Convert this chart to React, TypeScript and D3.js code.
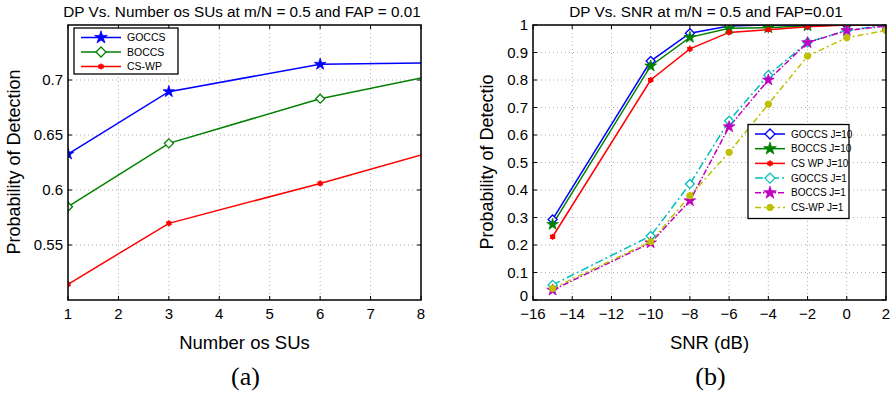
import React from "react";
import * as d3 from "d3";

// (a) detection prob vs number of SUs
const suCounts = [1, 3, 6, 10];
const goccsSU = [0.6327, 0.6894, 0.7143, 0.7167];
const boccsSU = [0.5848, 0.6424, 0.683, 0.7206];
const cswpSU = [0.5143, 0.5697, 0.606, 0.6576];
const suTicks = [1, 2, 3, 4, 5, 6, 7, 8];
const pdTicksA = [0.55, 0.6, 0.65, 0.7];

// (b) detection prob vs SNR
const snr = [-15, -10, -8, -6, -4, -2, 0, 2];
const goccs10 = [0.293, 0.869, 0.97, 0.996, 1.0, 1.0, 1.0, 1.0];
const boccs10 = [0.275, 0.851, 0.955, 0.988, 0.99, 0.997, 1.0, 1.0];
const cswp10 = [0.23, 0.8, 0.913, 0.973, 0.983, 0.994, 1.0, 1.0];
const goccs1 = [0.055, 0.233, 0.422, 0.652, 0.818, 0.937, 0.98, 1.0];
const boccs1 = [0.036, 0.208, 0.361, 0.63, 0.8, 0.936, 0.98, 0.996];
const cswp1 = [0.042, 0.212, 0.379, 0.537, 0.712, 0.887, 0.954, 0.98];
const snrTicks = [-16, -14, -12, -10, -8, -6, -4, -2, 0, 2];
const pdTicksB = [0, 0.1, 0.2, 0.3, 0.4, 0.5, 0.6, 0.7, 0.8, 0.9, 1];

const FONT = "Liberation Sans, Arial, Helvetica, sans-serif";

type Marker = "star" | "diamond" | "asterisk" | "dot";

interface Series {
  name: string;
  values: number[];
  color: string;
  marker: Marker;
  filled: boolean;
  dash?: string;
}

const diamondPath = (r: number) => `M0,${-r}L${r},0L0,${r}L${-r},0Z`;

function MarkerShape({ type, color, filled, x, y, big }: { type: Marker; color: string; filled: boolean; x: number; y: number; big?: boolean }) {
  const t = `translate(${x},${y})`;
  if (type === "diamond") {
    return <path transform={t} d={diamondPath(big ? 5 : 4.5)} fill={filled ? color : "white"} stroke={color} strokeWidth={1.3} />;
  }
  if (type === "star") {
    return <path transform={t} d={d3.symbol(d3.symbolStar, big ? 50 : 42)()!} fill={color} stroke={color} strokeWidth={0.8} />;
  }
  if (type === "asterisk") {
    return (
      <g transform={t}>
        <circle r={2.5} fill={color} />
        <path d={d3.symbol(d3.symbolAsterisk, 26)()!} stroke={color} strokeWidth={1.4} fill="none" />
      </g>
    );
  }
  return <circle transform={t} r={3.2} fill={color} stroke={color} />;
}

interface PanelProps {
  xDomain: [number, number];
  yDomain: [number, number];
  xRange: [number, number];
  yRange: [number, number];
  xs: number[];
  series: Series[];
  xTicks: number[];
  yTicks: number[];
  yFmt: (v: number) => string;
  xFmt: (v: number) => string;
  title: string;
  titleX: number;
  xLabel: string;
  yLabel: string;
  yLabelX: number;
  caption: string;
  clipId: string;
  legend: { x: number; y: number; w: number; h: number; rowH: number; lineLen: number; font: number };
}

function Panel(p: PanelProps) {
  const x = d3.scaleLinear().domain(p.xDomain).range(p.xRange);
  const y = d3.scaleLinear().domain(p.yDomain).range(p.yRange);
  const [x0, x1] = p.xRange;
  const [y1, y0] = p.yRange;
  const cx = (x0 + x1) / 2;
  const line = d3
    .line<number>()
    .x((_, i) => x(p.xs[i]))
    .y((d) => y(d));
  const L = p.legend;
  return (
    <g>
      <defs>
        <clipPath id={p.clipId}>
          <rect x={x0} y={y0} width={x1 - x0} height={y1 - y0} />
        </clipPath>
      </defs>
      <rect x={x0} y={y0} width={x1 - x0} height={y1 - y0} fill="white" />
      {/* grid */}
      {p.xTicks.map((t) => (
        <line key={"gx" + t} x1={x(t)} x2={x(t)} y1={y0} y2={y1} stroke="#999" strokeWidth={0.8} strokeDasharray="1,3" />
      ))}
      {p.yTicks.map((t) => (
        <line key={"gy" + t} x1={x0} x2={x1} y1={y(t)} y2={y(t)} stroke="#999" strokeWidth={0.8} strokeDasharray="1,3" />
      ))}
      {/* inner ticks */}
      {p.xTicks.map((t) => (
        <g key={"tx" + t}>
          <line x1={x(t)} x2={x(t)} y1={y1} y2={y1 - 4} stroke="black" />
          <line x1={x(t)} x2={x(t)} y1={y0} y2={y0 + 4} stroke="black" />
          <text x={x(t)} y={y1 + 19} textAnchor="middle" fontSize={15} fontFamily={FONT}>
            {p.xFmt(t)}
          </text>
        </g>
      ))}
      {p.yTicks.map((t, i) => (
        <g key={"ty" + t}>
          <line x1={x0} x2={x0 + 4} y1={y(t)} y2={y(t)} stroke="black" />
          <line x1={x1} x2={x1 - 4} y1={y(t)} y2={y(t)} stroke="black" />
          <text x={x0 - 5} y={y(t) + (t === p.yDomain[0] ? 1 : 5)} textAnchor="end" fontSize={15} fontFamily={FONT}>
            {p.yFmt(t)}
          </text>
        </g>
      ))}
      {/* data */}
      <g clipPath={`url(#${p.clipId})`}>
        {p.series.map((s) => (
          <path key={s.name} d={line(s.values)!} fill="none" stroke={s.color} strokeWidth={1.5} strokeDasharray={s.dash} />
        ))}
        {p.series.map((s) =>
          s.values.map((v, i) => (
            <MarkerShape key={s.name + i} type={s.marker} color={s.color} filled={s.filled} x={x(p.xs[i])} y={y(v)} />
          ))
        )}
      </g>
      <rect x={x0} y={y0} width={x1 - x0} height={y1 - y0} fill="none" stroke="black" strokeWidth={1.5} />
      {/* legend */}
      <rect x={L.x} y={L.y} width={L.w} height={L.h} fill="white" stroke="black" strokeWidth={1.3} />
      {p.series.map((s, i) => {
        const ly = L.y + 9.5 + i * L.rowH;
        const lx = L.x + 7;
        return (
          <g key={"lg" + s.name}>
            <line x1={lx} x2={lx + L.lineLen} y1={ly} y2={ly} stroke={s.color} strokeWidth={1.5} strokeDasharray={s.dash} />
            <MarkerShape type={s.marker} color={s.color} filled={s.filled} x={lx + L.lineLen / 2} y={ly} big />
            <text x={lx + L.lineLen + 6} y={ly + 3.6} fontSize={L.font} fontFamily={FONT}>
              {s.name}
            </text>
          </g>
        );
      })}
      {/* labels */}
      <text x={p.titleX} y={17} textAnchor="middle" fontSize={15.3} fontFamily={FONT}>
        {p.title}
      </text>
      <text x={cx} y={349} textAnchor="middle" fontSize={18.5} fontFamily={FONT}>
        {p.xLabel}
      </text>
      <text transform={`translate(${p.yLabelX},162) rotate(-90)`} textAnchor="middle" fontSize={18} fontFamily={FONT}>
        {p.yLabel}
      </text>
      <text x={cx + 1} y={385} textAnchor="middle" fontSize={26} fontFamily="Liberation Serif, Times New Roman, serif">
        {p.caption}
      </text>
    </g>
  );
}

export default function App() {
  const seriesA: Series[] = [
    { name: "GOCCS", values: goccsSU, color: "#0000ff", marker: "star", filled: true },
    { name: "BOCCS", values: boccsSU, color: "#008000", marker: "diamond", filled: false },
    { name: "CS-WP", values: cswpSU, color: "#ff0000", marker: "asterisk", filled: true },
  ];
  const seriesB: Series[] = [
    { name: "GOCCS J=10", values: goccs10, color: "#0000ff", marker: "diamond", filled: false },
    { name: "BOCCS J=10", values: boccs10, color: "#008000", marker: "star", filled: true },
    { name: "CS  WP J=10", values: cswp10, color: "#ff0000", marker: "asterisk", filled: true },
    { name: "GOCCS J=1", values: goccs1, color: "#00bfbf", marker: "diamond", filled: false, dash: "8,3,2,3" },
    { name: "BOCCS J=1", values: boccs1, color: "#bf00bf", marker: "star", filled: true, dash: "6,2,1.5,2" },
    { name: "CS-WP  J=1", values: cswp1, color: "#bfbf00", marker: "dot", filled: true, dash: "6,3,2,3" },
  ];
  const minus = (v: number) => String(v).replace("-", "\u2212");
  return (
    <svg width={896} height={395} style={{ position: "absolute", left: 0, top: 0, background: "white" }}>
      <Panel
        xDomain={[1, 8]}
        yDomain={[0.5, 0.75]}
        xRange={[68, 421]}
        yRange={[300, 25]}
        xs={suCounts}
        series={seriesA}
        xTicks={suTicks}
        yTicks={pdTicksA}
        yFmt={(v) => String(+v.toFixed(2))}
        xFmt={(v) => String(v)}
        title="DP Vs. Number os SUs at m/N = 0.5 and FAP = 0.01"
        titleX={242}
        xLabel="Number os SUs"
        yLabel="Probability of Detection"
        yLabelX={20}
        caption="(a)"
        clipId="clipA"
        legend={{ x: 74, y: 28, w: 104, h: 46, rowH: 14.5, lineLen: 40, font: 10.5 }}
      />
      <Panel
        xDomain={[-16, 2]}
        yDomain={[0, 1]}
        xRange={[533, 886]}
        yRange={[300, 25]}
        xs={snr}
        series={seriesB}
        xTicks={snrTicks}
        yTicks={pdTicksB}
        yFmt={(v) => String(+v.toFixed(1))}
        xFmt={minus}
        title="DP Vs. SNR at m/N = 0.5 and FAP=0.01"
        titleX={706}
        xLabel="SNR (dB)"
        yLabel="Probability of Detectio"
        yLabelX={493}
        caption="(b)"
        clipId="clipB"
        legend={{ x: 748, y: 124.5, w: 101, h: 94, rowH: 14.7, lineLen: 30, font: 10 }}
      />
    </svg>
  );
}
